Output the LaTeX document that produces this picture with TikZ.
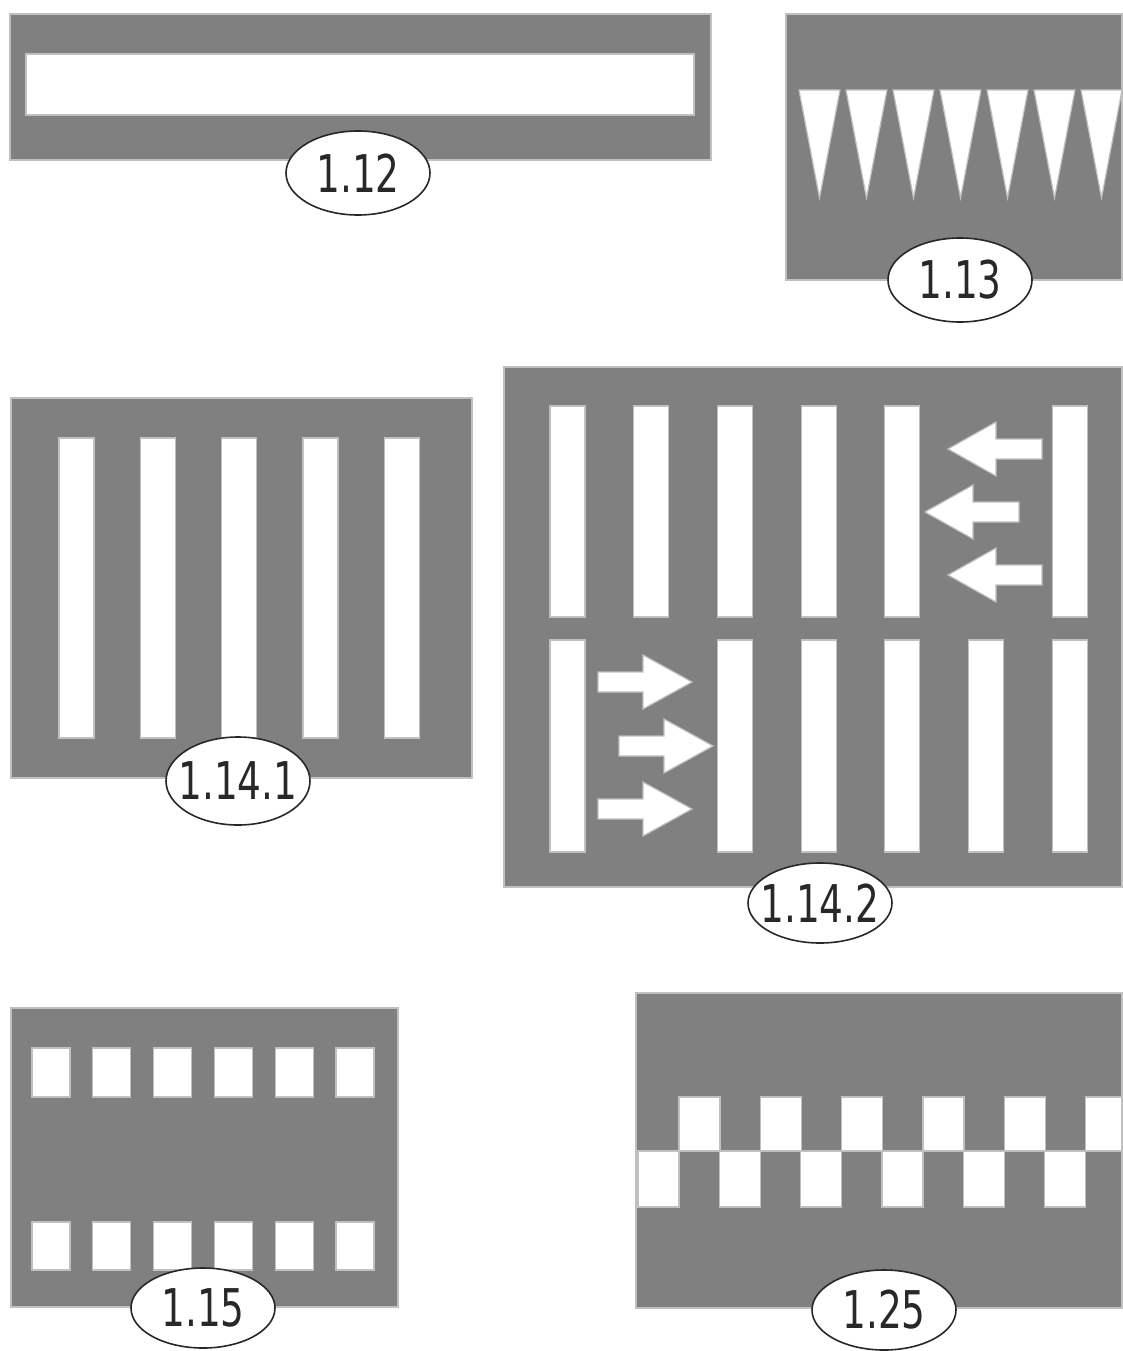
\documentclass[tikz,border=0pt]{standalone}
\usepackage{fontspec}
\newfontfamily\labfont[FakeStretch=0.72]{DejaVu Sans}
\usetikzlibrary{shapes.geometric}
\definecolor{road}{RGB}{128,128,128}
\definecolor{edgegray}{RGB}{192,192,192}
\definecolor{inkgray}{RGB}{40,40,40}
\tikzset{
  panel/.style={fill=road, draw=edgegray, line width=1.2pt},
  paint/.style={fill=white, draw=edgegray, line width=1.2pt},
  tag/.style={ellipse, fill=white, draw=inkgray, line width=1.6pt,
    minimum width=144pt, minimum height=84pt, inner sep=0pt,
    text=inkgray, font=\labfont\fontsize{52}{52}\selectfont}
}
\newcommand{\tagtext}[1]{\makebox[0pt]{#1}}
\newcommand{\leftarw}[2]{%
  \fill[paint] (#1,#2) -- ++(48,-27) -- ++(0,17) -- ++(46,0) -- ++(0,20)
    -- ++(-46,0) -- ++(0,17) -- cycle;}
\newcommand{\rightarw}[2]{%
  \fill[paint] (#1,#2) -- ++(-49,-27) -- ++(0,17) -- ++(-45,0) -- ++(0,20)
    -- ++(45,0) -- ++(0,17) -- cycle;}
\begin{document}
\begin{tikzpicture}[x=1pt,y=-1pt]
\useasboundingbox[fill=white] (0,0) rectangle (1122,1351);

% ---- 1.12
\fill[panel] (10,14) rectangle (711,160);
\fill[paint] (26,54) rectangle (694,115);
\node[tag] (l112) at (358,173) {\tagtext{1.12}};

% ---- 1.13
\fill[panel] (786,14) rectangle (1122,280);
\foreach \i in {0,...,6} {
  \pgfmathsetmacro{\xa}{799+47*\i}
  \fill[paint] (\xa,90) -- (\xa+41,90) -- (\xa+20.5,198) -- cycle;
}
\node[tag] (l113) at (960,280) {\tagtext{1.13}};

% ---- 1.14.1
\fill[panel] (11,398) rectangle (472,778);
\foreach \i in {0,...,4} {
  \pgfmathsetmacro{\xa}{59+81.3*\i}
  \fill[paint] (\xa,438) rectangle (\xa+35,738);
}
\node[tag, minimum height=88pt] (l1141) at (238,781) {\tagtext{1.14.1}};

% ---- 1.14.2
\fill[panel] (504,367) rectangle (1122,887);
\foreach \i in {0,1,2,3,4,6} {
  \pgfmathsetmacro{\xa}{550+83.7*\i}
  \fill[paint] (\xa,406) rectangle (\xa+35,617);
}
\foreach \i in {0,2,3,4,5,6} {
  \pgfmathsetmacro{\xa}{550+83.7*\i}
  \fill[paint] (\xa,640) rectangle (\xa+35,852);
}
\leftarw{948}{449}
\leftarw{925}{512}
\leftarw{948}{575}
\rightarw{692}{682}
\rightarw{713}{746}
\rightarw{692}{809}
\node[tag, minimum height=80pt] (l1142) at (820,903) {\tagtext{1.14.2}};

% ---- 1.15
\fill[panel] (11,1008) rectangle (398,1307);
\foreach \i in {0,...,5} {
  \pgfmathsetmacro{\xa}{32+60.8*\i}
  \fill[paint] (\xa,1048) rectangle (\xa+38,1097);
  \fill[paint] (\xa,1222) rectangle (\xa+38,1270);
}
\node[tag, minimum height=80pt] (l115) at (203,1308) {\tagtext{1.15}};

% ---- 1.25
\fill[panel] (636,993) rectangle (1122,1308);
\foreach \i in {0,...,5} {
  \pgfmathsetmacro{\xa}{638+81.3*\i}
  \pgfmathsetmacro{\xb}{min(679+81.3*\i+41,1122)}
  \fill[paint] (\xa,1151) rectangle (\xa+41,1207);
  \fill[paint] (679+81.3*\i,1097) rectangle (\xb,1151);
}
\node[tag, minimum height=80pt] (l125) at (884,1310) {\tagtext{1.25}};
\end{tikzpicture}
\end{document}
